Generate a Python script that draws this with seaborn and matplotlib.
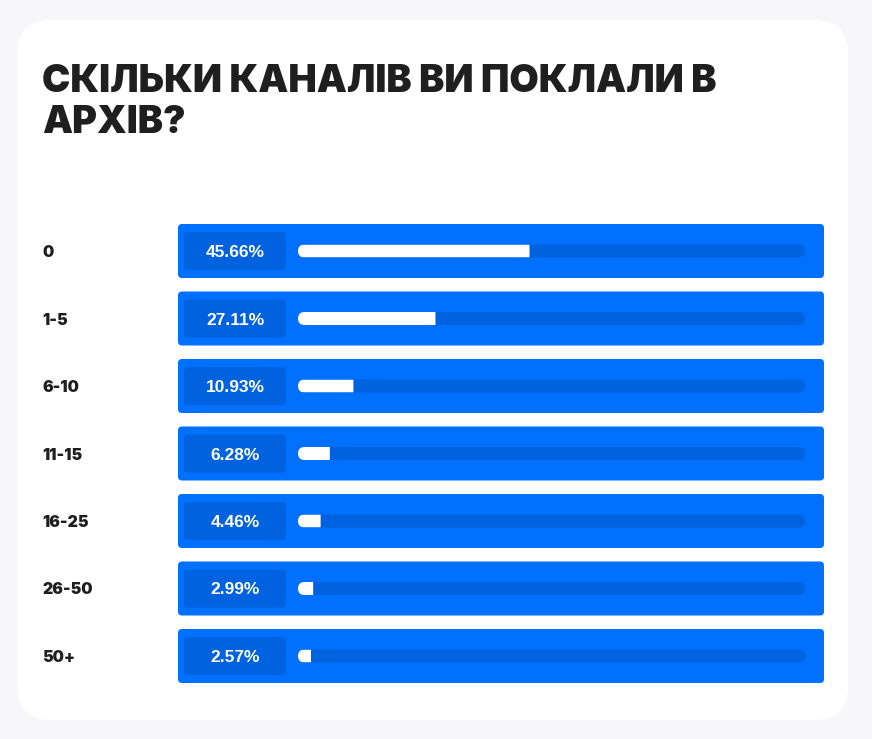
import matplotlib
matplotlib.use("Agg")
import matplotlib.pyplot as plt
from matplotlib.patches import FancyBboxPatch
import seaborn as sns
import pandas as pd

# data
categories = ["0", "1-5", "6-10", "11-15", "16-25", "26-50", "50+"]
shares = [45.66, 27.11, 10.93, 6.28, 4.46, 2.99, 2.57]
title_lines = ["СКІЛЬКИ КАНАЛІВ ВИ ПОКЛАЛИ В", "АРХІВ?"]

W, H = 872, 739
BG = "#f7f7f9"
BLUE = "#0070ff"
DARK = "#0062df"
INK = "#1f1f1f"
HEAVY = ['Inter', 'Lato', 'DejaVu Sans']

sns.set_theme(style="white")
plt.rcParams['font.family'] = ['Lato', 'DejaVu Sans']

fig = plt.figure(figsize=(W / 100, H / 100), dpi=100, facecolor=BG)

# card + title, drawn in pixel coords
bg = fig.add_axes([0, 0, 1, 1], zorder=0)
bg.set_xlim(0, W)
bg.set_ylim(H, 0)
bg.axis('off')
bg.add_patch(FancyBboxPatch((17, 20), 831, 700, boxstyle="round,pad=0,rounding_size=34",
                            fc="white", ec="none"))
for i, line in enumerate(title_lines):
    bg.text(42, 92 + i * 41, line, fontsize=27.3, fontweight='black', color=INK,
            va='baseline', ha='left', family=HEAVY)

# bar area: x 0..100 maps to track pixels 298..805, rows 67.5 px apart
track_l, track_r = 298, 805
row_h = 67.5
top_c = 251
ax = fig.add_axes([track_l / W, 1 - (top_c + 6 * row_h + row_h / 2) / H,
                   (track_r - track_l) / W, 7 * row_h / H], zorder=1)
xu = 100 / (track_r - track_l)   # data units per px (x)
yu = 1 / row_h                  # data units per px (y)

df = pd.DataFrame({"answer": categories, "share": shares, "full": 100})
bar_w = 13 * yu
sns.barplot(data=df, x="full", y="answer", color=DARK, saturation=1, width=bar_w, ax=ax)
sns.barplot(data=df, x="share", y="answer", color="white", saturation=1, width=bar_w, ax=ax)
ax.set_xlim(0, 100)
ax.set_ylim(6.5, -0.5)
ax.set_facecolor('none')
for s in ax.spines.values():
    s.set_visible(False)
ax.set_xticks([])
ax.set_xlabel('')
ax.set_ylabel('')

patches = list(ax.patches)
tracks, fills = patches[:7], patches[7:]
asp = yu / xu
rnd = f"round,pad=0,rounding_size={6.5 * xu}"
for p, f in zip(tracks, fills):
    x, y, w, h = p.get_x(), p.get_y(), p.get_width(), p.get_height()
    p.remove()
    pill = FancyBboxPatch((x, y), w, h, boxstyle=rnd, mutation_aspect=asp,
                          fc=DARK, ec="none", zorder=3, snap=False)
    ax.add_patch(pill)
    # white fill is clipped by the rounded track (rounded left end, square right end)
    f.set_edgecolor("none")
    f.set_zorder(4)
    f.set_snap(False)
    f.set_clip_path(pill)

# outer blue boxes and percent boxes
for i, v in enumerate(shares):
    ax.add_patch(FancyBboxPatch(((178 - track_l) * xu, i - 27 * yu), 646 * xu, 54 * yu,
                                boxstyle=f"round,pad=0,rounding_size={4 * xu}", mutation_aspect=asp,
                                fc=BLUE, ec="none", zorder=1, clip_on=False))
    ax.add_patch(FancyBboxPatch(((184 - track_l) * xu, i - 19 * yu), 102 * xu, 38 * yu,
                                boxstyle=f"round,pad=0,rounding_size={4 * xu}", mutation_aspect=asp,
                                fc=DARK, ec="none", zorder=2, clip_on=False))
    ax.text((235 - track_l) * xu, i, f"{v:.2f}%", ha='center', va='center_baseline',
            fontsize=12.5, fontweight='bold', color='white', family=['Liberation Sans', 'DejaVu Sans'],
            zorder=5, clip_on=False)

ax.tick_params(axis='y', length=0, pad=(track_l - 42) * 0.72)
for t in ax.get_yticklabels():
    t.set_ha('left')
    t.set_fontsize(11.5)
    t.set_fontweight('black')
    t.set_fontfamily(HEAVY)
    t.set_color(INK)

fig.savefig("out.png", dpi=100, facecolor=BG)
